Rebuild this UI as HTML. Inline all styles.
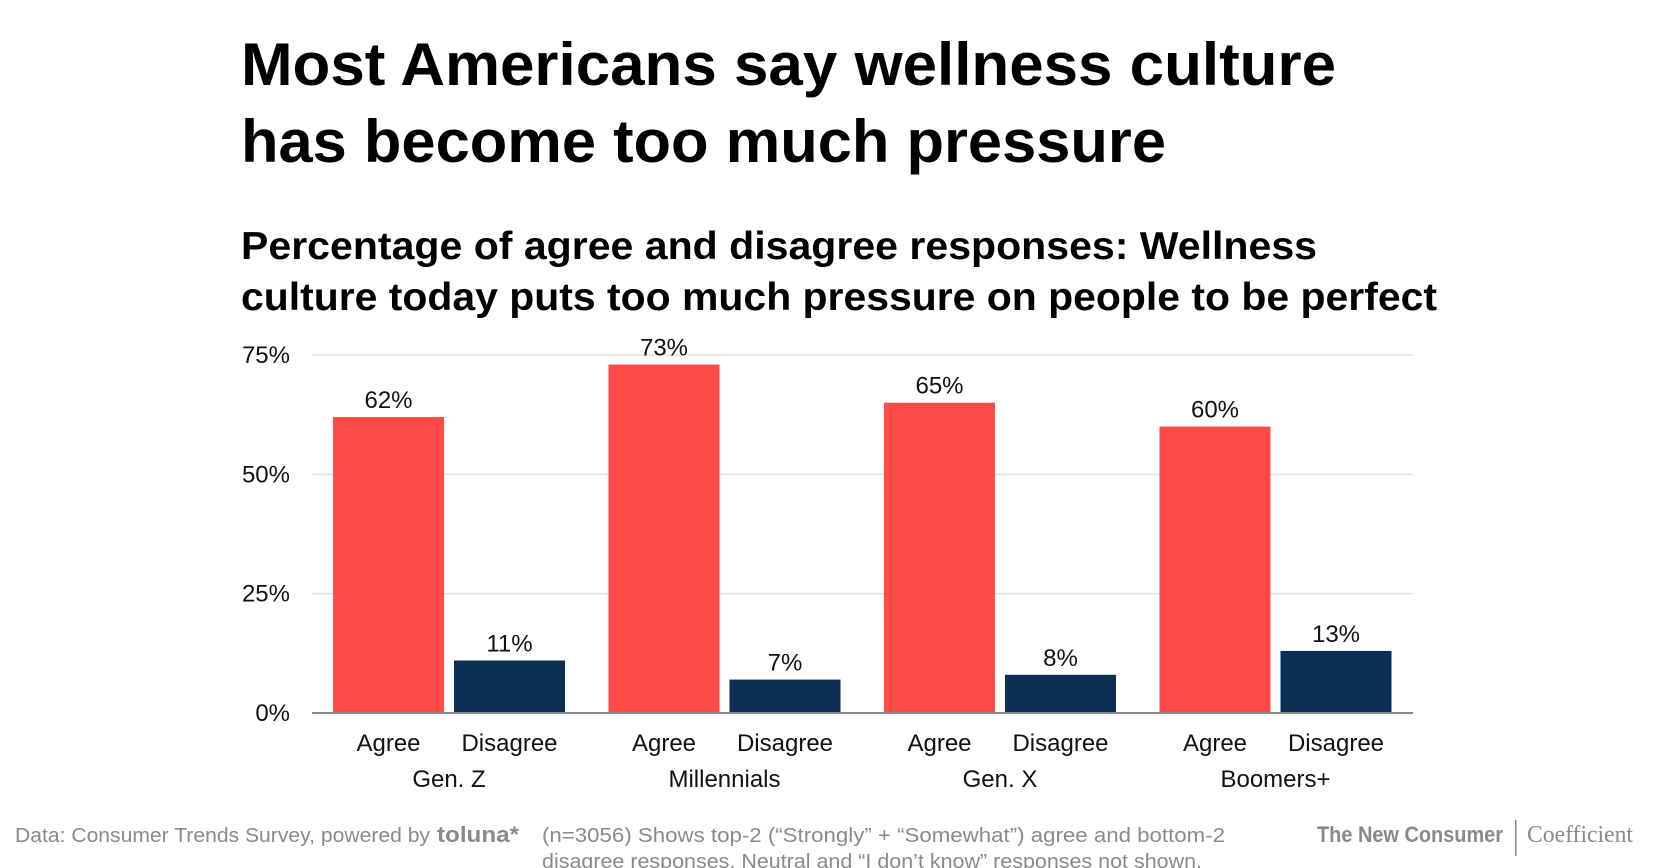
<!DOCTYPE html>
<html><head><meta charset="utf-8"><style>
html,body{margin:0;padding:0;background:#fff;}
svg{display:block;font-family:"Liberation Sans",sans-serif;}
</style></head><body>
<svg id="chart" width="1666" height="868" viewBox="0 0 1666 868">
<text x="241" y="85" font-size="60" font-weight="bold" fill="#000" textLength="1095" lengthAdjust="spacingAndGlyphs">Most Americans say wellness culture</text>
<text x="241" y="162" font-size="60" font-weight="bold" fill="#000" textLength="925" lengthAdjust="spacingAndGlyphs">has become too much pressure</text>
<text x="241" y="259" font-size="39" font-weight="bold" fill="#000" textLength="1076" lengthAdjust="spacingAndGlyphs">Percentage of agree and disagree responses: Wellness</text>
<text x="241" y="310" font-size="39" font-weight="bold" fill="#000" textLength="1196" lengthAdjust="spacingAndGlyphs">culture today puts too much pressure on people to be perfect</text>
<g id="plot"></g>
<text x="15" y="842" font-size="20" fill="#8a8a8a" textLength="415" lengthAdjust="spacingAndGlyphs">Data: Consumer Trends Survey, powered by</text>
<text x="437" y="842" font-size="22" font-weight="bold" fill="#8a8a8a" textLength="82" lengthAdjust="spacingAndGlyphs">toluna*</text>
<text x="542" y="842" font-size="20" fill="#8a8a8a" textLength="683" lengthAdjust="spacingAndGlyphs">(n=3056) Shows top-2 (“Strongly” + “Somewhat”) agree and bottom-2</text>
<text x="542" y="868" font-size="20" fill="#8a8a8a" textLength="660" lengthAdjust="spacingAndGlyphs">disagree responses. Neutral and “I don’t know” responses not shown.</text>
<text x="1317" y="842" font-size="22" font-weight="bold" fill="#8a8a8a" textLength="186" lengthAdjust="spacingAndGlyphs">The New Consumer</text>
<rect x="1515" y="820" width="1.5" height="36" fill="#8a8a8a"/>
<text x="1527" y="842" font-size="24" font-family="Liberation Serif,serif" fill="#8a8a8a" textLength="106" lengthAdjust="spacingAndGlyphs">Coefficient</text>
</svg>
<script>
const groups = ["Gen. Z","Millennials","Gen. X","Boomers+"];
const agreeValues = [62,73,65,60];
const disagreeValues = [11,7,8,13];
const yTicks = [0,25,50,75];
const tickLabels = ["0%","25%","50%","75%"];

const NS="http://www.w3.org/2000/svg";
const g=document.getElementById('plot');
const x0=312,x1=1413,yBase=713,yTop=355,maxV=75;
const y=v=>yBase-(yBase-yTop)*v/maxV;
const groupW=275.5;
const barW=111,gap=10,offset=21;
function mk(tag,attrs,txt){const e=document.createElementNS(NS,tag);for(const k in attrs)e.setAttribute(k,attrs[k]);if(txt!==undefined)e.textContent=txt;g.appendChild(e);return e;}
yTicks.forEach((t,i)=>{
  if(t>0){const l=mk('line',{x1:x0,x2:x1,y1:y(t),y2:y(t),stroke:'#e2e2e2','stroke-width':1.5});
  
  }
  const tx=mk('text',{x:290,y:y(t)+8,'font-size':24,'text-anchor':'end',fill:'#111'},tickLabels[i]);
  
  
});
groups.forEach((name,i)=>{
  const gx=x0+i*groupW;
  [[agreeValues[i],'#FF4B47','Agree'],[disagreeValues[i],'#0A2F52','Disagree']].forEach((d,j)=>{
    const bx=gx+offset+j*(barW+gap);
    const r=mk('rect',{x:bx,y:y(d[0]),width:barW,height:yBase-y(d[0]),fill:d[1]});
    
    
    const v=mk('text',{x:bx+barW/2,y:y(d[0])-9,'font-size':24,'text-anchor':'middle',fill:'#111'},d[0]+'%');
    
    
    const c=mk('text',{x:bx+barW/2,y:751,'font-size':24,'text-anchor':'middle',fill:'#111'},d[2]);
    
    
  });
  const gl=mk('text',{x:gx+offset+barW+gap/2,y:787,'font-size':24,'text-anchor':'middle',fill:'#111'},name);
  
  
});
const ax=mk('line',{x1:x0,x2:x1,y1:yBase,y2:yBase,stroke:'#888','stroke-width':2});


</script>
</body></html>
